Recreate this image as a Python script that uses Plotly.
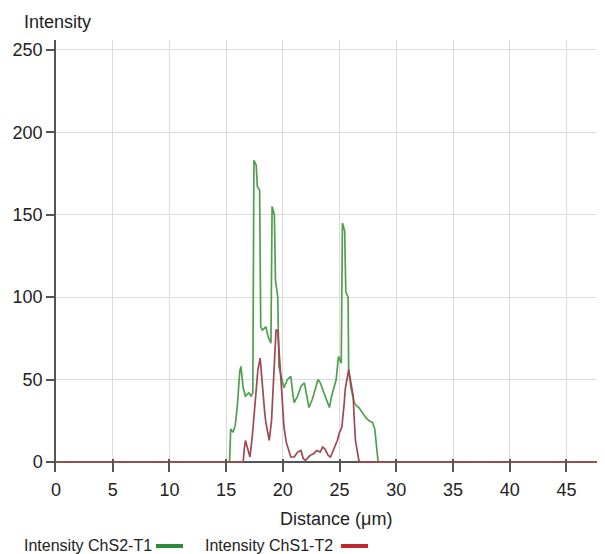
import plotly.graph_objects as go

# Green series: Intensity ChS2-T1
green_x = [0, 15.3, 15.4, 15.6, 15.8, 16.0, 16.2, 16.3, 16.5, 16.7, 17.0, 17.2, 17.35, 17.45, 17.65, 17.75,
           17.95, 18.05, 18.2, 18.5, 18.7, 18.95, 19.05, 19.25, 19.35, 19.55, 19.65, 19.9, 20.1, 20.4, 20.7,
           20.9, 21.0, 21.3, 21.6, 21.9, 22.1, 22.3, 22.6, 22.9, 23.1, 23.3, 23.6, 23.9, 24.1, 24.3,
           24.5, 24.7, 24.9, 25.15, 25.25, 25.45, 25.55, 25.75, 25.8, 26.0, 26.3, 26.5, 26.7, 27.0, 27.3,
           27.6, 27.9, 28.1, 28.2, 28.3, 28.4, 48.5]
green_y = [0, 0, 20, 18, 22, 35, 55, 58, 45, 40, 42, 40, 42, 183, 180, 167,
           165, 82, 80, 82, 76, 72, 155, 150, 110, 100, 58, 50, 45, 50, 52,
           40, 36, 40, 46, 48, 40, 33, 38, 46, 50, 48, 42, 36, 33, 40,
           45, 50, 64, 60, 145, 140, 103, 100, 56, 45, 36, 34, 33, 30, 27,
           25, 24, 20, 13, 6, 0, 0]

# Red series: Intensity ChS1-T2
red_x = [0, 16.5, 16.6, 16.7, 16.9, 17.1, 17.3, 17.5, 17.7, 17.8, 18.0, 18.1, 18.2, 18.4, 18.5, 18.7,
         18.8, 19.0, 19.1, 19.3, 19.4, 19.55, 19.7, 19.8, 20.0, 20.1, 20.3, 20.5, 20.7, 21.0, 21.3,
         21.6, 21.8, 22.0, 22.4, 22.7, 23.0, 23.3, 23.5, 23.7, 24.0, 24.2, 24.5, 24.8, 25.0, 25.2,
         25.4, 25.5, 25.7, 25.8, 26.0, 26.2, 26.3, 26.4, 26.6, 26.7, 26.8, 48.5]
red_y = [0, 0, 8, 13, 8, 3, 15, 33, 50, 56, 63, 55, 42, 30, 24, 18,
         13, 25, 38, 60, 80, 80, 65, 54, 35, 21, 12, 7, 3, 3, 6,
         7, 2, 1, 4, 5, 7, 6, 9, 8, 4, 3, 8, 13, 18, 21,
         35, 44, 52, 56, 48, 40, 25, 13, 5, 1, 0, 0]

x_ticks = [0, 5, 10, 15, 20, 25, 30, 35, 40, 45]
y_ticks = [0, 50, 100, 150, 200, 250]
series_names = ["Intensity ChS2-T1", "Intensity ChS1-T2"]

FONT = "Arial, Liberation Sans, sans-serif"
TXT = "#222222"
AX = "#555555"

# page body has an 8px margin; figure origin sits at page (8, 8)
OFF = 8
FW, FH = 605 - OFF, 554 - OFF
# plot area in page pixels: left 56, right 605, top 40, bottom 472 (y=0 at 462)
L, R, T, B = 56, 605, 40, 472
PW, PH = R - L, B - T

fig = go.Figure()
fig.add_trace(go.Scatter(x=green_x, y=green_y, mode="lines", name=series_names[0],
                         line=dict(color="#4f9f4f", width=1.7)))
fig.add_trace(go.Scatter(x=red_x, y=red_y, mode="lines", name=series_names[1],
                         line=dict(color="#a04852", width=1.7)))

fig.update_layout(
    width=FW, height=FH,
    margin=dict(l=L - OFF, r=605 - R, t=T - OFF, b=554 - B, pad=0),
    paper_bgcolor="white", plot_bgcolor="white",
    showlegend=False,
    font=dict(family=FONT, size=18, color=TXT),
    xaxis=dict(range=[0, 48.4], tickvals=x_ticks, showgrid=True, gridcolor="#dcdcdc", gridwidth=1,
               zeroline=False, showline=False, automargin=False,
               ticks="inside", ticklen=13, tickcolor=AX, tickwidth=1.5, ticklabelstandoff=5,
               tickfont=dict(size=18, family=FONT, color=TXT)),
    yaxis=dict(range=[-6.1, 256], tickvals=y_ticks, showgrid=True, gridcolor="#dcdcdc", gridwidth=1,
               zeroline=True, zerolinecolor=AX, zerolinewidth=1.5,
               showline=True, linecolor=AX, linewidth=1.5, automargin=False,
               ticks="outside", ticklen=8, tickcolor=AX, tickwidth=1.5,
               tickfont=dict(size=18, family=FONT, color=TXT)),
)

def px(xp):
    return (xp - L) / PW

def py(yp):
    return (B - yp) / PH

# Axis titles
fig.add_annotation(text="Intensity", xref="paper", yref="paper", x=px(22), y=py(22),
                   xanchor="left", yanchor="middle", showarrow=False,
                   font=dict(size=18, family=FONT, color=TXT))
fig.add_annotation(text="Distance (μm)", xref="paper", yref="paper", x=px(336), y=py(519),
                   xanchor="center", yanchor="middle", showarrow=False,
                   font=dict(size=18, family=FONT, color=TXT))

# Custom legend (text followed by colour bar)
fig.add_annotation(text=series_names[0], xref="paper", yref="paper", x=px(22), y=py(545),
                   xanchor="left", yanchor="middle", showarrow=False,
                   font=dict(size=16, family=FONT, color=TXT))
fig.add_annotation(text=series_names[1], xref="paper", yref="paper", x=px(203), y=py(545),
                   xanchor="left", yanchor="middle", showarrow=False,
                   font=dict(size=16, family=FONT, color=TXT))
fig.add_shape(type="line", xref="paper", yref="paper", x0=px(156), x1=px(183),
              y0=py(546), y1=py(546), line=dict(color="#2e8b3a", width=4))
fig.add_shape(type="line", xref="paper", yref="paper", x0=px(341), x1=px(368),
              y0=py(546), y1=py(546), line=dict(color="#c0282d", width=4))

fig.write_html("out.html")
